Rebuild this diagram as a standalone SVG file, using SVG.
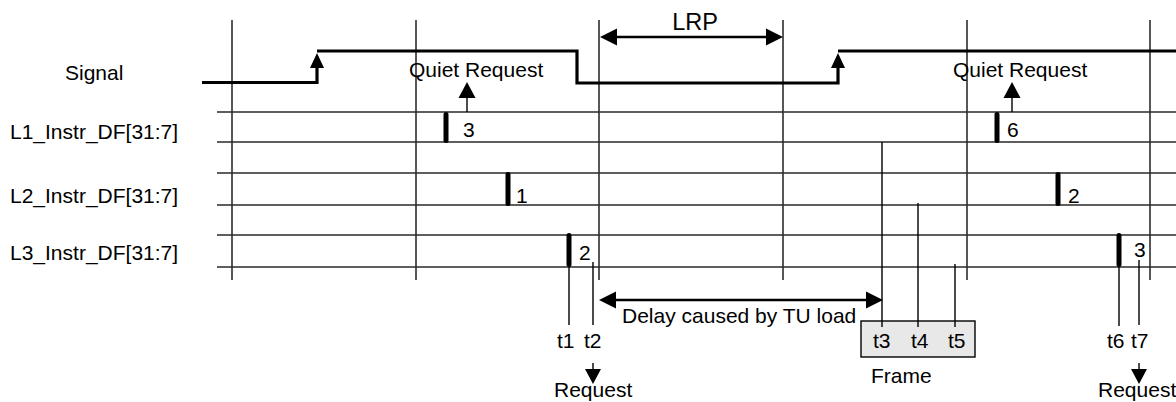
<svg xmlns="http://www.w3.org/2000/svg" width="1176" height="402" viewBox="0 0 1176 402">
<style>
text{font-family:"Liberation Sans",Arial,sans-serif;font-size:21px;fill:#000}
.grid{stroke:#111;stroke-width:1.4;fill:none}
.row{stroke:#2a2a2a;stroke-width:1.4;fill:none}
.sig{stroke:#000;stroke-width:3.2;fill:none}
.bar{stroke:#000;stroke-width:5;stroke-linecap:round}
.tl{stroke:#000;stroke-width:1.4}
.arr{stroke:#000;stroke-width:2.4;fill:none}
.head{fill:#000;stroke:none}
</style>
<defs>
<path id="upS" class="head" d="M0,0 L-7,15 L7,15 Z"/>
<path id="up" class="head" d="M0,0 L-8.5,16 L8.5,16 Z"/>
<path id="down" class="head" d="M0,0 L-8,-15 L8,-15 Z"/>
<path id="left" class="head" d="M0,0 L17,-8.5 L17,8.5 Z"/>
<path id="right" class="head" d="M0,0 L-17,-8.5 L-17,8.5 Z"/>
</defs>
<g id="grid">
<path class="grid" d="M232,20V280M416,20V280M599,20V280M783,20V280M967,20V280M1150,20V280"/>
<path class="row" d="M217,112H1176M217,142H1176M217,173H1176M217,205H1176M217,235H1176M217,267H1176"/>
</g>
<g id="labels">
<text x="65" y="80">Signal</text>
<text x="10" y="139">L1_Instr_DF[31:7]</text>
<text x="10" y="203">L2_Instr_DF[31:7]</text>
<text x="10" y="260">L3_Instr_DF[31:7]</text>
</g>
<g id="signal">
<path class="sig" d="M202,82.5H317V66"/>
<use href="#upS" x="317" y="53"/>
<path class="sig" d="M317,51H577V83H838V66"/>
<use href="#upS" x="838" y="53"/>
<path class="sig" d="M838,51H1176"/>
</g>
<g id="connectors">
<path class="arr" d="M612,37H771"/>
<use href="#left" x="600" y="37"/>
<use href="#right" x="783" y="37"/>
<path class="arr" d="M611,300H871"/>
<use href="#left" x="599" y="300"/>
<use href="#right" x="883" y="300"/>
<path class="tl" d="M467,112V95"/>
<use href="#up" x="467" y="82"/>
<path class="tl" d="M1012,112V95"/>
<use href="#up" x="1012" y="82"/>
<path class="tl" d="M593,363V372"/>
<use href="#down" x="593" y="384"/>
<path class="tl" d="M1139,363V372"/>
<use href="#down" x="1139" y="384"/>
</g>
<g id="lrp"><text x="695" y="30" text-anchor="middle" style="font-size:23.5px">LRP</text></g>
<g id="quiet1"><text x="409" y="77">Quiet Request</text></g>
<g id="quiet2"><text x="953" y="77">Quiet Request</text></g>
<g id="frame">
<rect x="861" y="321" width="114" height="36" fill="#e8e8e8" stroke="#000" stroke-width="1.4"/>
<text x="871" y="383">Frame</text>
</g>
<g id="tlines">
<path class="tl" d="M569,267V325M593,262V325M882,142V327M918,203V327M955,264V327M1119,267V326M1139,260V325"/>
</g>
<g id="markers">
<path class="bar" d="M446,114.5V140.5M508,174.5V203.5M569,235.5V264.5M997,114.5V140.5M1058,174.5V203.5M1119,235.5V264.5"/>
<text x="463" y="137">3</text>
<text x="516" y="203">1</text>
<text x="579" y="260">2</text>
<text x="1007" y="137">6</text>
<text x="1068" y="203">2</text>
<text x="1134" y="257">3</text>
</g>
<g id="times">
<text x="557" y="348">t1</text>
<text x="584" y="348">t2</text>
<text x="873" y="348">t3</text>
<text x="911" y="348">t4</text>
<text x="948" y="348">t5</text>
<text x="1107" y="348">t6</text>
<text x="1131" y="348">t7</text>
<text x="622" y="323">Delay caused by TU load</text>
<text x="554" y="397">Request</text>
<text x="1098" y="397">Request</text>
</g>
</svg>
